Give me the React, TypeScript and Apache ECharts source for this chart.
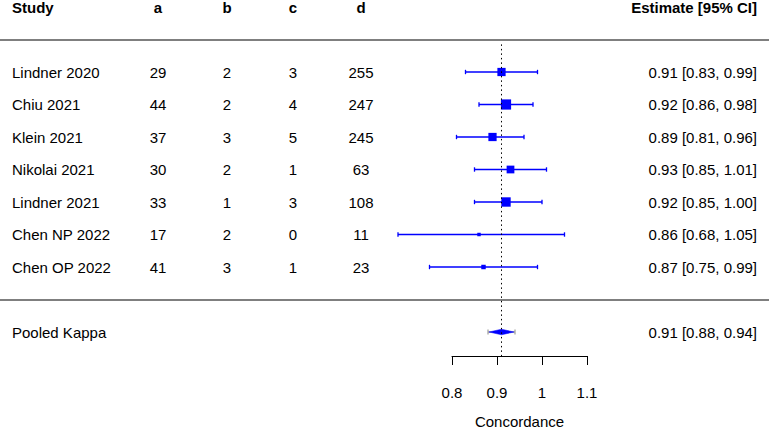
import React, { useEffect, useRef } from "react";
import * as echarts from "echarts";

const studies = ["Lindner 2020", "Chiu 2021", "Klein 2021", "Nikolai 2021", "Lindner 2021", "Chen NP 2022", "Chen OP 2022"];
const colA = [29, 44, 37, 30, 33, 17, 41];
const colB = [2, 2, 3, 2, 1, 2, 3];
const colC = [3, 4, 5, 1, 3, 0, 1];
const colD = [255, 247, 245, 63, 108, 11, 23];
const estimate = [0.91, 0.92, 0.89, 0.93, 0.92, 0.86, 0.87];
const ciLow = [0.83, 0.86, 0.81, 0.85, 0.85, 0.68, 0.75];
const ciHigh = [0.99, 0.98, 0.96, 1.01, 1.0, 1.05, 0.99];
const weights = [17, 26, 17, 15, 22, 3, 5];
const pooledLabel = "Pooled Kappa";
const pooledEst = 0.91;
const pooledLow = 0.88;
const pooledHigh = 0.94;
const headers = ["Study", "a", "b", "c", "d", "Estimate [95% CI]"];
const axisTicks = [0.8, 0.9, 1.0, 1.1];
const axisName = "Concordance";

const FONT = 'Arial, "Liberation Sans", Helvetica, sans-serif';
const W = 769;
const PX_PER_UNIT = 450;
const X0PX = 452;
const XMIN = 0.8 - X0PX / PX_PER_UNIT;
const XMAX = 0.8 + (W - X0PX) / PX_PER_UNIT;
const COL_STUDY = 12;
const COL_A = 158;
const COL_B = 227;
const COL_C = 293;
const COL_D = 361;
const COL_EST = 757;

const fmt = (v: number) => v.toFixed(2);
const rowOf = (i: number) => studies.length - i;

export default function App() {
  const ref = useRef<HTMLDivElement>(null);
  useEffect(() => {
    if (!ref.current) return;
    const chart = echarts.init(ref.current, null, { renderer: "svg" });

    const txt = (x: number, y: number, text: string, align: string, bold = false) => ({
      type: "text",
      x,
      y,
      style: {
        text,
        align,
        verticalAlign: "middle",
        fontSize: 15,
        fontWeight: bold ? "bold" : "normal",
        fontFamily: FONT,
        fill: "#000",
      },
    });

    // table rows: [x, row, kind(0 header,1 study,2 pooled), index]
    const tableData: number[][] = [[pooledEst, 9, 0, 0]];
    studies.forEach((_, i) => tableData.push([estimate[i], rowOf(i), 1, i]));
    tableData.push([pooledEst, -1, 2, 0]);

    const option: any = {
      animation: false,
      grid: [
        { left: 0, top: 7, width: W, height: 357.5 },
        { left: X0PX, top: 300, width: 0.3 * PX_PER_UNIT, height: 63 },
      ],
      xAxis: [
        { type: "value", gridIndex: 0, min: XMIN, max: XMAX, show: false },
        {
          type: "value",
          gridIndex: 1,
          min: axisTicks[0],
          max: axisTicks[axisTicks.length - 1],
          interval: 0.1,
          splitLine: { show: false },
          axisLine: { show: true, lineStyle: { color: "#000", width: 1 } },
          axisTick: { show: true, length: 9, lineStyle: { color: "#000", width: 1 } },
          axisLabel: {
            fontSize: 15,
            color: "#000",
            fontFamily: FONT,
            margin: 29,
            formatter: (v: number) => String(Math.round(v * 10) / 10),
          },
          name: axisName,
          nameLocation: "middle",
          nameGap: 58,
          nameTextStyle: { fontSize: 15, color: "#000", fontFamily: FONT },
        },
      ],
      yAxis: [
        { type: "value", gridIndex: 0, min: -2, max: 9, show: false },
        { type: "value", gridIndex: 1, min: 0, max: 1, show: false },
      ],
      series: [
        {
          type: "custom",
          name: "table",
          xAxisIndex: 0,
          yAxisIndex: 0,
          silent: true,
          data: tableData,
          encode: { x: 0, y: 1 },
          renderItem: (params: any, api: any) => {
            const row = api.value(1);
            const kind = api.value(2);
            const i = api.value(3);
            const y = api.coord([pooledEst, row])[1];
            if (kind === 0) {
              return {
                type: "group",
                children: [
                  txt(COL_STUDY, y, headers[0], "left", true),
                  txt(COL_A, y, headers[1], "center", true),
                  txt(COL_B, y, headers[2], "center", true),
                  txt(COL_C, y, headers[3], "center", true),
                  txt(COL_D, y, headers[4], "center", true),
                  txt(COL_EST, y, headers[5], "right", true),
                ],
              };
            }
            if (kind === 2) {
              return {
                type: "group",
                children: [
                  txt(COL_STUDY, y, pooledLabel, "left"),
                  txt(COL_EST, y, `${fmt(pooledEst)} [${fmt(pooledLow)}, ${fmt(pooledHigh)}]`, "right"),
                ],
              };
            }
            return {
              type: "group",
              children: [
                txt(COL_STUDY, y, studies[i], "left"),
                txt(COL_A, y, String(colA[i]), "center"),
                txt(COL_B, y, String(colB[i]), "center"),
                txt(COL_C, y, String(colC[i]), "center"),
                txt(COL_D, y, String(colD[i]), "center"),
                txt(COL_EST, y, `${fmt(estimate[i])} [${fmt(ciLow[i])}, ${fmt(ciHigh[i])}]`, "right"),
              ],
            };
          },
          markLine: {
            silent: true,
            symbol: "none",
            label: { show: false },
            data: [
              { yAxis: 8, lineStyle: { color: "#555", width: 1.5, type: "solid" } },
              { yAxis: 0, lineStyle: { color: "#555", width: 1.5, type: "solid" } },
              [
                { coord: [pooledEst, 7.85], lineStyle: { color: "#000", width: 1, type: [1.5, 3] } },
                { coord: [pooledEst, -1.8] },
              ],
            ],
          },
        },
        {
          type: "custom",
          name: "ci",
          xAxisIndex: 0,
          yAxisIndex: 0,
          silent: true,
          data: studies.map((_, i) => [ciLow[i], rowOf(i), ciHigh[i]]),
          encode: { x: 0, y: 1 },
          renderItem: (params: any, api: any) => {
            const row = api.value(1);
            const p1 = api.coord([api.value(0), row]);
            const p2 = api.coord([api.value(2), row]);
            const st = { stroke: "#0000ff", lineWidth: 1.3 };
            return {
              type: "group",
              children: [
                { type: "line", shape: { x1: p1[0], y1: p1[1], x2: p2[0], y2: p2[1] }, style: st },
                { type: "line", shape: { x1: p1[0], y1: p1[1] - 2.2, x2: p1[0], y2: p1[1] + 2.2 }, style: st },
                { type: "line", shape: { x1: p2[0], y1: p2[1] - 2.2, x2: p2[0], y2: p2[1] + 2.2 }, style: st },
              ],
            };
          },
        },
        {
          type: "scatter",
          name: "estimate",
          xAxisIndex: 0,
          yAxisIndex: 0,
          silent: true,
          symbol: "rect",
          symbolSize: (v: number[]) => 2 * Math.sqrt(v[2]),
          itemStyle: { color: "#0000ff", opacity: 1 },
          data: studies.map((_, i) => [estimate[i], rowOf(i), weights[i]]),
        },
        {
          type: "custom",
          name: "pooled",
          xAxisIndex: 0,
          yAxisIndex: 0,
          silent: true,
          data: [[pooledEst, -1, pooledLow, pooledHigh]],
          encode: { x: 0, y: 1 },
          renderItem: (params: any, api: any) => {
            const row = api.value(1);
            const c = api.coord([api.value(0), row]);
            const l = api.coord([api.value(2), row]);
            const h = api.coord([api.value(3), row]);
            const gs = { stroke: "#888", lineWidth: 1 };
            return {
              type: "group",
              children: [
                { type: "line", shape: { x1: l[0], y1: l[1], x2: h[0], y2: h[1] }, style: gs },
                { type: "line", shape: { x1: l[0], y1: l[1] - 2.5, x2: l[0], y2: l[1] + 2.5 }, style: gs },
                { type: "line", shape: { x1: h[0], y1: h[1] - 2.5, x2: h[0], y2: h[1] + 2.5 }, style: gs },
                {
                  type: "polygon",
                  shape: {
                    points: [
                      [l[0] + 1, l[1]],
                      [c[0], c[1] - 2.8],
                      [h[0] - 1, h[1]],
                      [c[0], c[1] + 2.8],
                    ],
                  },
                  style: { fill: "#0000ff", stroke: "#0000ff", lineWidth: 0.5 },
                },
              ],
            };
          },
        },
      ],
    };
    chart.setOption(option);
    return () => chart.dispose();
  }, []);
  return <div ref={ref} style={{ position: "absolute", left: 0, top: 0, width: W, height: 430 }} />;
}
